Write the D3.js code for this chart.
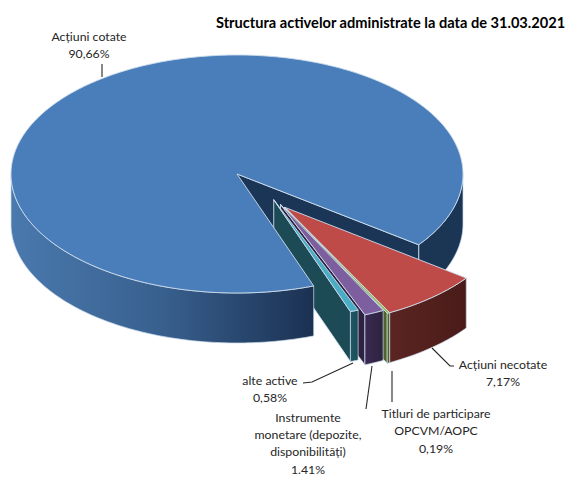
<!DOCTYPE html>
<html><head><meta charset="utf-8">
<script src="https://cdnjs.cloudflare.com/ajax/libs/d3/7.8.5/d3.min.js"></script>
<style>html,body{margin:0;padding:0;background:#fff}svg{display:block}text{font-family:Lato,"Open Sans",sans-serif;fill:#262626}</style>
</head><body><svg id="c" width="568" height="477"></svg>
<script>
const titleText = "Structura activelor administrate la data de 31.03.2021";
const categories = ["Acțiuni necotate","Titluri de participare OPCVM/AOPC","Instrumente monetare (depozite, disponibilități)","alte active","Acțiuni cotate"];
const values = [7.17,0.19,1.41,0.58,90.66];
const explode = [0.35,0.35,0.32,0.27,0];
const topColors = ["#BE4B48","#98B954","#7D5FA0","#4BACC6","#4A7EBB"];
const wallFrom = ["#5a2421","#4f6228","#3a2a55","#205867","#4a79ae"];
const wallMid = ["#52201d","#4f6228","#342647","#1e525e","#38608e"];
const wallTo = ["#4a1b19","#4f6228","#2e2240","#1d4b55","#1b3152"];

const labels = [
 {lines:["Acțiuni cotate","90,66%"],x:89,y:41},
 {lines:["Acțiuni necotate","7,17%"],x:503,y:369},
 {lines:["Titluri de participare","OPCVM/AOPC","0,19%"],x:436,y:418},
 {lines:["Instrumente","monetare (depozite,","disponibilități)","1.41%"],x:308,y:421.5},
 {lines:["alte active","0,58%"],x:270,y:385}
];
const leaders = [
 [[102,64],[102,77]],
 [[432,348],[450,366],[454,366]],
 [[392,371],[392,402]],
 [[372,366],[366,409]],
 [[303,383],[312,382],[353,363]]
];

const svg = d3.select("#c");
const cx=237, cy=174, rx=226, ry=119, depth=50, exDir=53*Math.PI/180;
const X = d3.scaleLinear().domain([-1,1]).range([cx-rx,cx+rx]);
const Y = d3.scaleLinear().domain([-1,1]).range([cy-ry,cy+ry]);
const pie = d3.pie().sort(null).startAngle((36.5+90)*Math.PI/180).endAngle((36.5+90+360)*Math.PI/180);
const arcs = pie(values);
const line = d3.line();
const defs = svg.append("defs");
const edge = "#cddcec";
const twoPi=2*Math.PI;

const geom = arcs.map((a,i)=>{
  const t0=a.startAngle-Math.PI/2, t1=a.endAngle-Math.PI/2;
  const ox=explode[i]*Math.cos(exDir), oy=explode[i]*Math.sin(exDir);
  const px=(t,r=1,d=0)=>[X(ox+r*Math.cos(t)),Y(oy+r*Math.sin(t))+d];
  const grad=defs.append("linearGradient").attr("id","w"+i).attr("gradientUnits","userSpaceOnUse").attr("y1",0).attr("y2",0);
  if(i===4){grad.attr("x1",X(-1)).attr("x2",px(t0)[0]);}else{grad.attr("x1",px(t1)[0]).attr("x2",px(t0)[0]);}
  grad.append("stop").attr("offset",0).attr("stop-color",wallFrom[i]);
  grad.append("stop").attr("offset",.5).attr("stop-color",wallMid[i]);
  grad.append("stop").attr("offset",1).attr("stop-color",wallTo[i]);
  return {i,t0,t1,px};
});
function drawWall(G,lo,hi,fill){
  const s=Math.max(G.t0,lo), e=Math.min(G.t1,hi);
  if(e<=s) return;
  const n=Math.max(2,Math.ceil((e-s)*60));
  const rim=d3.range(n+1).map(k=>s+(e-s)*k/n);
  const pts=rim.map(t=>G.px(t)).concat(rim.slice().reverse().map(t=>G.px(t,1,depth)));
  svg.append("path").attr("d",line(pts)+"Z").attr("fill",fill||`url(#w${G.i})`).attr("stroke",edge).attr("stroke-width",.7);
}
function drawFace(G){
  const p=[G.px(0,0),G.px(G.t1),G.px(G.t1,1,depth),G.px(0,0,depth)];
  svg.append("path").attr("d",line(p)+"Z").attr("fill",G.i===4?"#1a3555":wallTo[G.i]).attr("stroke",edge).attr("stroke-width",.9);
}
function drawTop(G){
  const n=Math.max(2,Math.ceil((G.t1-G.t0)*60));
  const p=[G.px(0,0)].concat(d3.range(n+1).map(k=>G.px(G.t0+(G.t1-G.t0)*k/n)));
  svg.append("path").attr("d",line(p)+"Z").attr("fill",topColors[G.i]).attr("stroke",edge).attr("stroke-width",.9);
}
const blue=geom[4];
// back of the large slice
drawWall(blue,twoPi,twoPi+Math.PI,"#1b3555");
drawFace(blue);
// exploded slices, in angular order
geom.slice(0,4).forEach(G=>{ drawFace(G); drawWall(G,0,Math.PI); drawTop(G); });
// front of the large slice
drawWall(blue,0,Math.PI);
drawTop(blue);

leaders.forEach(l=>svg.append("path").attr("d",line(l)).attr("fill","none").attr("stroke","#262626").attr("stroke-width",1.1));
labels.forEach(l=>{
  const t=svg.append("text").attr("text-anchor","middle").attr("font-size",12.3);
  l.lines.forEach((s,k)=>t.append("tspan").attr("x",l.x).attr("y",l.y+k*17.4).text(s));
});
svg.append("text").attr("x",216).attr("y",28).attr("font-size",14.6).attr("font-weight",700).style("fill","#000").text(titleText);
</script></body></html>
